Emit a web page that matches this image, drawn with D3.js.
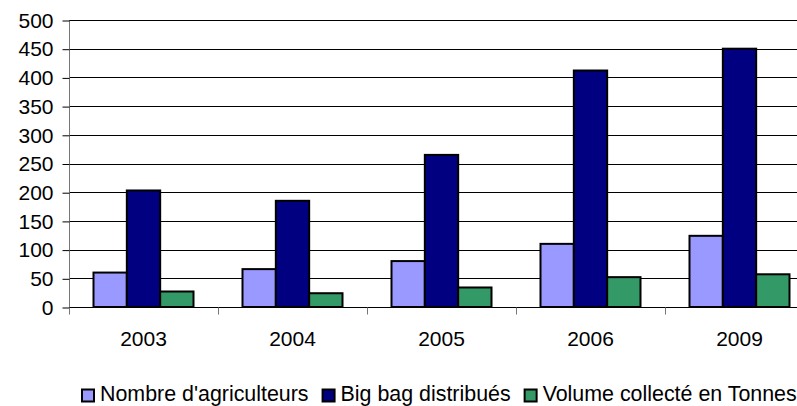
<!DOCTYPE html>
<html>
<head>
<meta charset="utf-8">
<script src="https://cdn.jsdelivr.net/npm/d3@7"></script>
<style>
  html, body { margin: 0; padding: 0; background: #fff; }
  svg { display: block; font-family: "Liberation Sans", Arial, sans-serif; }
</style>
</head>
<body>
<svg id="chart" width="797" height="406"></svg>
<script>
// Years on the category axis
const years = ["2003", "2004", "2005", "2006", "2009"];
// Series names and values per year
const seriesNames = ["Nombre d'agriculteurs", "Big bag distribués", "Volume collecté en Tonnes"];
const agriculteurs = [60, 66, 80, 110, 124];
const bigBags = [203, 185, 265, 412, 450];
const volume = [27, 24, 34, 52, 57];
const seriesColors = ["#9999FF", "#000080", "#339966"];
const yTicks = [0, 50, 100, 150, 200, 250, 300, 350, 400, 450, 500];

const seriesValues = [agriculteurs, bigBags, volume];
const svg = d3.select("#chart");

const plot = { left: 69, right: 814, top: 20, bottom: 307 };

const x = d3.scaleBand().domain(years).range([plot.left, plot.right]).padding(0);
const groupInset = 24.5;
const xs = d3.scaleBand().domain(d3.range(seriesNames.length))
  .range([groupInset, x.bandwidth() - groupInset]).padding(0);
const y = d3.scaleLinear().domain([0, 500]).range([plot.bottom, plot.top]);

// Horizontal gridlines
svg.append("g").selectAll("line")
  .data(yTicks.filter(d => d > 0))
  .join("line")
  .attr("x1", plot.left).attr("x2", plot.right)
  .attr("y1", d => Math.round(y(d)) + 0.5).attr("y2", d => Math.round(y(d)) + 0.5)
  .attr("stroke", "#000").attr("stroke-width", 1);

// Y axis with labels
const yAxis = svg.append("g")
  .attr("transform", `translate(${plot.left + 0.5},0.5)`)
  .call(d3.axisLeft(y).tickValues(yTicks).tickSize(7).tickPadding(9).tickFormat(d3.format("d")));
yAxis.select(".domain").attr("d", `M0,${plot.top}V${plot.bottom + 6}`).attr("stroke", "#777");
yAxis.selectAll(".tick line").attr("stroke", "#000");
yAxis.selectAll(".tick text")
  .attr("font-size", 21).attr("fill", "#000").attr("font-family", "Liberation Sans, Arial, sans-serif");

// Bars
const groups = svg.append("g").selectAll("g")
  .data(years)
  .join("g")
  .attr("transform", d => `translate(${x(d)},0)`);

groups.selectAll("rect")
  .data((d, i) => seriesValues.map((vals, s) => ({ s, v: vals[i] })))
  .join("rect")
  .attr("x", d => xs(d.s))
  .attr("width", xs.bandwidth())
  .attr("y", d => y(d.v))
  .attr("height", d => y(0) - y(d.v))
  .attr("fill", d => seriesColors[d.s])
  .attr("stroke", "#000")
  .attr("stroke-width", 2);

// X axis baseline, category ticks and labels
const xAxis = svg.append("g")
  .attr("transform", `translate(0,${plot.bottom + 0.5})`);
xAxis.append("line")
  .attr("x1", plot.left).attr("x2", plot.right)
  .attr("stroke", "#000");
xAxis.selectAll("line.tk")
  .data(years.concat(["end"]))
  .join("line")
  .attr("class", "tk")
  .attr("x1", d => d === "end" ? plot.right : Math.round(x(d)) + 0.5)
  .attr("x2", d => d === "end" ? plot.right : Math.round(x(d)) + 0.5)
  .attr("y1", 0).attr("y2", 7)
  .attr("stroke", "#777");
xAxis.selectAll("text")
  .data(years)
  .join("text")
  .attr("x", d => x(d) + x.bandwidth() / 2)
  .attr("y", 38.5)
  .attr("text-anchor", "middle")
  .attr("font-size", 21)
  .attr("fill", "#000")
  .text(d => d);

// Legend
const legend = svg.append("g").attr("transform", "translate(81,0)");
let lx = 0;
seriesNames.forEach((name, i) => {
  const item = legend.append("g").attr("transform", `translate(${lx},0)`);
  item.append("rect")
    .attr("x", 1).attr("y", 389.5)
    .attr("width", 12).attr("height", 12)
    .attr("fill", seriesColors[i]).attr("stroke", "#000").attr("stroke-width", 2);
  const t = item.append("text")
    .attr("x", 19).attr("y", 401)
    .attr("font-size", 21.4)
    .attr("fill", "#000")
    .text(name);
  lx += 19 + t.node().getComputedTextLength() + 13;
});
</script>
</body>
</html>
